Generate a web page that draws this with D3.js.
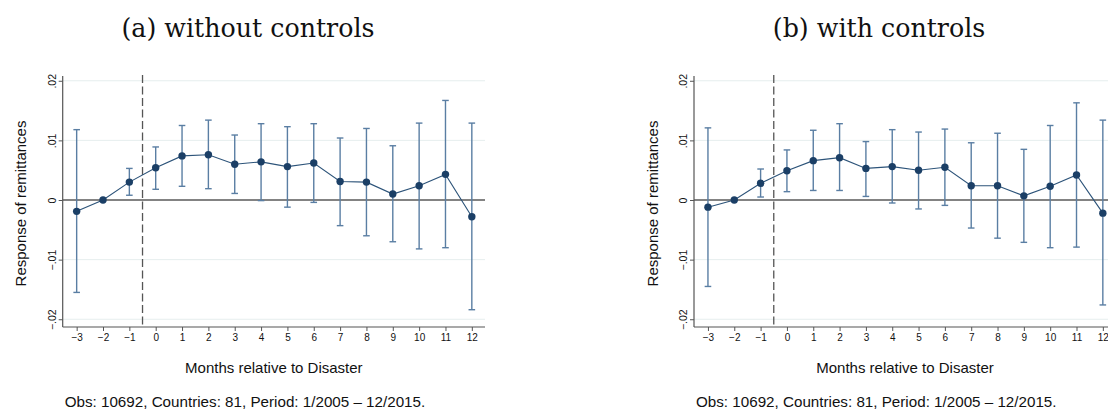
<!DOCTYPE html>
<html>
<head>
<meta charset="utf-8">
<script src="https://cdn.jsdelivr.net/npm/d3@7"></script>
<style>
  html, body { margin: 0; padding: 0; background: #fff; }
  svg { display: block; }
</style>
</head>
<body>
<svg id="chart" width="1108" height="409"></svg>
<script>
// Event-study estimates: response of remittances by month relative to disaster
const months = [-3, -2, -1, 0, 1, 2, 3, 4, 5, 6, 7, 8, 9, 10, 11, 12];
const yTicks = [-0.02, -0.01, 0, 0.01, 0.02];

const coefNoControls = [-0.0019, 0, 0.0030, 0.0054, 0.0074, 0.0076, 0.0060, 0.0064, 0.0056, 0.0062, 0.0031, 0.0030, 0.0010, 0.0024, 0.0043, -0.0028];
const lowerNoControls = [-0.0155, 0, 0.0008, 0.0018, 0.0023, 0.0019, 0.0011, -0.0001, -0.0012, -0.0004, -0.0043, -0.0060, -0.0070, -0.0082, -0.0080, -0.0184];
const upperNoControls = [0.0118, 0, 0.0053, 0.0089, 0.0125, 0.0134, 0.0109, 0.0128, 0.0123, 0.0128, 0.0104, 0.0120, 0.0091, 0.0129, 0.0167, 0.0129];

const coefControls = [-0.0012, 0, 0.0028, 0.0049, 0.0066, 0.0071, 0.0053, 0.0056, 0.0050, 0.0055, 0.0024, 0.0024, 0.0007, 0.0023, 0.0042, -0.0022];
const lowerControls = [-0.0145, 0, 0.0005, 0.0014, 0.0016, 0.0016, 0.0006, -0.0005, -0.0015, -0.0009, -0.0047, -0.0064, -0.0071, -0.0080, -0.0079, -0.0176];
const upperControls = [0.0121, 0, 0.0052, 0.0084, 0.0117, 0.0128, 0.0098, 0.0118, 0.0114, 0.0119, 0.0096, 0.0112, 0.0085, 0.0125, 0.0163, 0.0134];

const panels = [
  { title: "(a) without controls", coef: coefNoControls, lo: lowerNoControls, hi: upperNoControls,
    left: 62.7, right: 485, titleX: 248 },
  { title: "(b) with controls", coef: coefControls, lo: lowerControls, hi: upperControls,
    left: 694, right: 1116, titleX: 879 }
];

const svg = d3.select("#chart");
const sans = "'Liberation Sans', Arial, Helvetica, sans-serif";
const serif = "'DejaVu Serif', 'Liberation Serif', serif";

const plotTop = 76, plotBottom = 327;

panels.forEach(p => {
  const g = svg.append("g");

  // x axis: months, with half-unit padding after the last month
  const x = d3.scaleLinear()
    .domain([-3.53, 12.5])
    .range([p.left, p.right]);
  const y = d3.scaleLinear()
    .domain([-0.0213, 0.0208])
    .range([plotBottom, plotTop]);

  // light horizontal gridlines
  g.selectAll("line.grid").data(yTicks.filter(t => t !== 0)).enter().append("line")
    .attr("x1", p.left).attr("x2", Math.min(p.right, 1108))
    .attr("y1", d => y(d)).attr("y2", d => y(d))
    .attr("stroke", "#e6eeee").attr("stroke-width", 1);

  // zero reference line
  g.append("line")
    .attr("x1", p.left).attr("x2", p.right)
    .attr("y1", y(0)).attr("y2", y(0))
    .attr("stroke", "#5a5a5a").attr("stroke-width", 1.4);

  // disaster onset marker between -1 and 0
  g.append("line")
    .attr("x1", x(-0.5)).attr("x2", x(-0.5))
    .attr("y1", plotTop - 1).attr("y2", plotBottom)
    .attr("stroke", "#555").attr("stroke-width", 1.3)
    .attr("stroke-dasharray", "8,3.5");

  // y axis
  const yAxis = d3.axisLeft(y).tickValues(yTicks).tickSize(4).tickSizeOuter(0)
    .tickFormat(d => d === 0 ? "0" : d3.format(".2f")(d).replace("0.", ".").replace("-", "\u2212"));
  const ya = g.append("g").attr("transform", `translate(${p.left},0)`).call(yAxis);
  ya.select(".domain").attr("stroke", "#555").attr("stroke-width", 1.2)
    .attr("d", `M0,${plotTop}V${plotBottom}`);
  ya.selectAll(".tick line").attr("stroke", "#555");
  ya.selectAll(".tick text")
    .attr("font-family", sans).attr("font-size", 10.5).attr("fill", "#111")
    .attr("x", null).attr("dy", null)
    .attr("text-anchor", "middle")
    .attr("transform", "translate(-7,0) rotate(-90)")
    .attr("dy", "0");

  // x axis
  const xAxis = d3.axisBottom(x).tickValues(months).tickSize(4).tickSizeOuter(0)
    .tickFormat(d => String(d).replace("-", "\u2212"));
  const xa = g.append("g").attr("transform", `translate(0,${plotBottom})`).call(xAxis);
  xa.select(".domain").attr("stroke", "#555").attr("stroke-width", 1.2)
    .attr("d", `M${p.left},0H${p.right}`);
  xa.selectAll(".tick line").attr("stroke", "#555");
  xa.selectAll(".tick text")
    .attr("font-family", sans).attr("font-size", 10).attr("fill", "#111")
    .attr("y", 7);

  const rows = months.map((m, i) => ({ m, c: p.coef[i], lo: p.lo[i], hi: p.hi[i] }));

  // confidence intervals
  const ciColor = "#5a7ea3";
  const ci = g.selectAll("g.ci").data(rows.filter(r => r.hi !== r.lo)).enter().append("g");
  ci.append("line")
    .attr("x1", d => x(d.m)).attr("x2", d => x(d.m))
    .attr("y1", d => y(d.lo)).attr("y2", d => y(d.hi))
    .attr("stroke", ciColor).attr("stroke-width", 1.4);
  ci.append("line")
    .attr("x1", d => x(d.m) - 3.3).attr("x2", d => x(d.m) + 3.3)
    .attr("y1", d => y(d.hi)).attr("y2", d => y(d.hi))
    .attr("stroke", ciColor).attr("stroke-width", 1.4);
  ci.append("line")
    .attr("x1", d => x(d.m) - 3.3).attr("x2", d => x(d.m) + 3.3)
    .attr("y1", d => y(d.lo)).attr("y2", d => y(d.lo))
    .attr("stroke", ciColor).attr("stroke-width", 1.4);

  // point estimates connected
  g.append("path").datum(rows)
    .attr("fill", "none").attr("stroke", "#2c5379").attr("stroke-width", 1.1)
    .attr("d", d3.line().x(d => x(d.m)).y(d => y(d.c)));
  g.selectAll("circle").data(rows).enter().append("circle")
    .attr("cx", d => x(d.m)).attr("cy", d => y(d.c)).attr("r", 3.7)
    .attr("fill", "#1b3f66");

  // axis titles
  g.append("text")
    .attr("transform", `translate(${p.left - 42},${(plotTop + plotBottom) / 2 + 2}) rotate(-90)`)
    .attr("text-anchor", "middle").attr("dominant-baseline", "central")
    .attr("font-family", sans).attr("font-size", 15).attr("fill", "#111")
    .text("Response of remittances");
  g.append("text")
    .attr("x", (p.left + p.right) / 2).attr("y", 373)
    .attr("text-anchor", "middle")
    .attr("font-family", sans).attr("font-size", 15).attr("fill", "#111")
    .text("Months relative to Disaster");

  // panel title
  g.append("text")
    .attr("x", p.titleX).attr("y", 37)
    .attr("text-anchor", "middle")
    .attr("font-family", serif).attr("font-size", 25.3).attr("fill", "#111")
    .text(p.title);

  // sample note
  g.append("text")
    .attr("x", p.left + 2).attr("y", 407)
    .attr("font-family", sans).attr("font-size", 15.2).attr("fill", "#111")
    .text("Obs: 10692, Countries: 81, Period: 1/2005 \u2013 12/2015.");
});
</script>
</body>
</html>
